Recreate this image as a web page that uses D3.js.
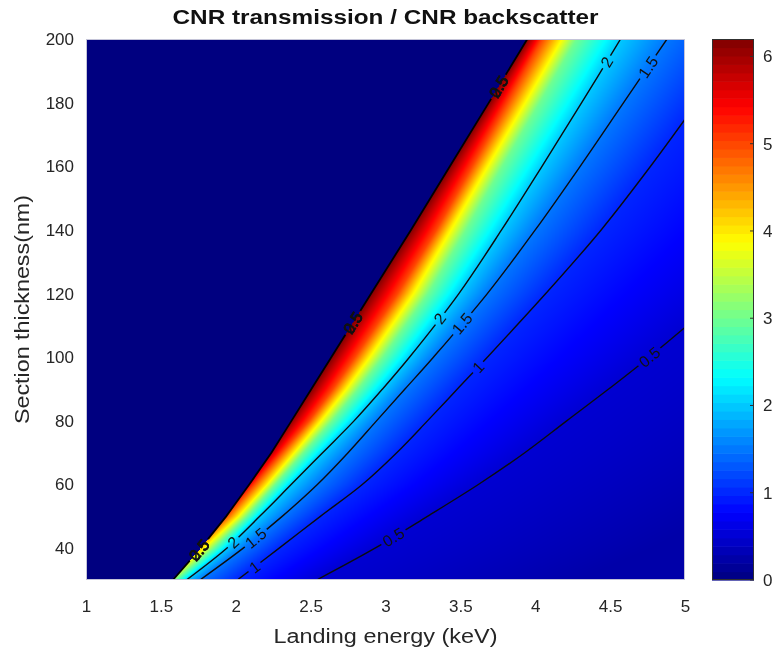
<!DOCTYPE html>
<html><head><meta charset="utf-8">
<script src="https://cdn.jsdelivr.net/npm/d3@7"></script>
<style>
body{margin:0;background:#fff;}
#wrap{position:relative;width:775px;height:651px;overflow:hidden;}
canvas,svg{position:absolute;left:0;top:0;}
text{font-family:"Liberation Sans",Arial,Helvetica,sans-serif;}
</style></head><body><div id="wrap"><canvas id="cv" width="775" height="651"></canvas><svg id="sv" width="775" height="651"></svg></div>
<script>
// ---- data ----
const thickness  = [30,   40,   50,   60,   70,   80,   90,   100,  120,  140,  160,  180,  200];
const edgeEnergy = [1.58, 1.766,1.936,2.09, 2.238,2.372,2.505,2.638,2.904,3.17, 3.43, 3.69, 3.947];
const edgePeak   = [3.3,  4.2,  5.0,  5.5,  5.9,  6.1,  6.2,  6.2,  6.2,  6.2,  6.2,  6.2,  6.2];
const level5E    = [1.58, 1.766,1.936,2.124,2.306,2.489,2.648,2.795,3.08, 3.339,3.578,3.814,4.047];
const level4E    = [1.58, 1.780,2.010,2.202,2.382,2.560,2.728,2.883,3.174,3.424,3.67, 3.919,4.165];
const level3E    = [1.598,1.853,2.075,2.264,2.453,2.644,2.819,2.983,3.285,3.539,3.781,4.031,4.277];
const contour2E  = [1.67, 1.94, 2.16, 2.37, 2.58, 2.79, 2.98, 3.16, 3.49, 3.775,4.045,4.31, 4.57];
const contour15E = [1.761,2.05, 2.31, 2.545,2.75, 2.94, 3.13, 3.32, 3.68, 4.0,  4.3,  4.59, 4.88];
const contour1E  = [2.01, 2.29, 2.565,2.845,3.075,3.28, 3.48, 3.68, 4.07, 4.44, 4.77, 5.08, 5.38];
const contour05E = [2.54, 2.93, 3.28, 3.62, 3.93, 4.21, 4.49, 4.76, 5.26, 5.72, 6.15, 6.56, 6.96];
const level025E  = [4.3,  4.8,  5.2,  5.6,  6.0,  6.4,  6.8,  7.2,  8.0,  8.8,  9.5,  10.2, 10.9];
const levelValues = [5, 4, 3, 2, 1.5, 1, 0.5, 0.25];
const contourLevels = [2, 1.5, 1, 0.5];
const contourLabelT = [[41.9,112.2,192.8],[43.2,110.6,191.2],[34.1,96.9],[43.5,100.1]];
const edgeLabelT = [39.4,110.8,185];
const xTicks = [1,1.5,2,2.5,3,3.5,4,4.5,5];
const yTicks = [40,60,80,100,120,140,160,180,200];
const cTicks = [0,1,2,3,4,5,6];
const colorMax = 6.2;
const titleText = "CNR transmission / CNR backscatter";
const xLabelText = "Landing energy (keV)";
const yLabelText = "Section thickness(nm)";

// ---- layout ----
const PL=86, PR=685, PT=39, PB=580;
const CBL=712, CBR=754;
const FONT='"Liberation Sans",Arial,Helvetica,sans-serif';
const xs = d3.scaleLinear().domain([1,5]).range([PL,PR]);
const ys = d3.scaleLinear().domain([30,200]).range([PB,PT]);
const cs = d3.scaleLinear().domain([0,colorMax]).range([PB,PT]);
const levelEnergy = [level5E,level4E,level3E,contour2E,contour15E,contour1E,contour05E,level025E];
const contourArrays = [contour2E,contour15E,contour1E,contour05E];

function jet(x){
  x=Math.max(0,Math.min(1,x));
  const c=v=>Math.max(0,Math.min(1,v));
  return [c(1.5-Math.abs(4*x-3)), c(1.5-Math.abs(4*x-2)), c(1.5-Math.abs(4*x-1))];
}
function jetCss(x){const j=jet(x);return d3.rgb(j[0]*255,j[1]*255,j[2]*255).toString();}

function rowAt(t){
  let i = d3.bisectRight(thickness, t) - 1;
  i = Math.max(0, Math.min(thickness.length-2, i));
  const f = (t - thickness[i])/(thickness[i+1]-thickness[i]);
  const L = a => a[i] + (a[i+1]-a[i])*f;
  return {edge:L(edgeEnergy), peak:L(edgePeak), en:levelEnergy.map(L)};
}
function valueAt(E, r){
  if (E < r.edge) return 0;
  let pe=r.edge, pv=r.peak;
  for (let k=0;k<levelValues.length;k++){
    const v=levelValues[k];
    if (v>=pv) continue;
    const e=Math.max(r.en[k],pe);
    if (E<=e) return e===pe ? v : pv+(v-pv)*(E-pe)/(e-pe);
    pe=e; pv=v;
  }
  return pv;
}
function energyAt(arr,t){
  let i = d3.bisectRight(thickness, t) - 1;
  i = Math.max(0, Math.min(thickness.length-2, i));
  const f = (t - thickness[i])/(thickness[i+1]-thickness[i]);
  return arr[i]+(arr[i+1]-arr[i])*f;
}

// ---- field on canvas ----
const cv=document.getElementById('cv'); const ctx=cv.getContext('2d');
const img=ctx.createImageData(PR-PL, PB-PT);
for(let py=PT;py<PB;py++){
  const r=rowAt(ys.invert(py+0.5));
  for(let px=PL;px<PR;px++){
    const v=valueAt(xs.invert(px+0.5), r);
    const j=jet(v/colorMax);
    const o=((py-PT)*(PR-PL)+(px-PL))*4;
    img.data[o]=j[0]*255; img.data[o+1]=j[1]*255; img.data[o+2]=j[2]*255; img.data[o+3]=255;
  }
}
ctx.putImageData(img, PL, PT);

// ---- svg ----
const svg=d3.select('#sv');
const defs=svg.append('defs');
defs.append('clipPath').attr('id','plotclip').append('rect')
  .attr('x',PL).attr('y',PT).attr('width',PR-PL).attr('height',PB-PT);
const mask=defs.append('mask').attr('id','lblmask').attr('maskUnits','userSpaceOnUse')
  .attr('x',0).attr('y',0).attr('width',775).attr('height',651);
mask.append('rect').attr('x',0).attr('y',0).attr('width',775).attr('height',651).attr('fill','#fff');

const line=d3.line().x(d=>xs(d[0])).y(d=>ys(d[1])).curve(d3.curveCatmullRom.alpha(0.5));
const gLines=svg.append('g').attr('clip-path','url(#plotclip)');
const gLinesInner=gLines.append('g').attr('mask','url(#lblmask)');
contourArrays.forEach(arr=>{
  gLinesInner.append('path').attr('d',line(thickness.map((t,i)=>[arr[i],t])))
    .attr('fill','none').attr('stroke','#0d0d0d').attr('stroke-width',1.4);
});
gLinesInner.append('path').attr('d',d3.line().x(d=>xs(d[0])).y(d=>ys(d[1]))(thickness.map((t,i)=>[edgeEnergy[i],t])))
  .attr('fill','none').attr('stroke','#000').attr('stroke-width',1.8);

const gLbl=svg.append('g');
function placeLabel(arr,t,texts,bold){
  const E=energyAt(arr,t);
  const x=xs(E), y=ys(t);
  const x1=xs(energyAt(arr,t-3)), y1=ys(t-3), x2=xs(energyAt(arr,t+3)), y2=ys(t+3);
  const ang=Math.atan2(y2-y1,x2-x1)*180/Math.PI;
  const g=gLbl.append('g').attr('transform',`translate(${x},${y}) rotate(${ang})`);
  let w=0;
  texts.forEach(s=>{
    const tx=g.append('text').attr('text-anchor','middle').attr('dy','0.36em')
      .attr('font-size',16).attr('fill','#111').text(s);
    if(bold) tx.attr('stroke','#111').attr('stroke-width',0.6);
    w=Math.max(w,tx.node().getComputedTextLength());
  });
  mask.append('rect').attr('x',-w/2-3).attr('y',-7).attr('width',w+6).attr('height',14)
    .attr('fill','#000').attr('transform',`translate(${x},${y}) rotate(${ang})`);
}
contourArrays.forEach((arr,k)=>{
  contourLabelT[k].forEach(t=>placeLabel(arr,t,[String(contourLevels[k])],false));
});
edgeLabelT.forEach(t=>placeLabel(edgeEnergy,t,["0.5","2.5"],true));

// plot frame
svg.append('rect').attr('x',PL+0.5).attr('y',PT+0.5).attr('width',PR-PL-1).attr('height',PB-PT-1)
  .attr('fill','none').attr('stroke','#c4c4d8').attr('stroke-width',1);

// axes
const ax=svg.append('g').attr('transform',`translate(0,${PB})`)
  .call(d3.axisBottom(xs).tickValues(xTicks).tickFormat(d3.format('')).tickSize(0).tickPadding(20));
const ay=svg.append('g').attr('transform',`translate(${PL},0)`)
  .call(d3.axisLeft(ys).tickValues(yTicks).tickFormat(d3.format('')).tickSize(0).tickPadding(12));
[ax,ay].forEach(a=>{a.select('.domain').remove();
  a.selectAll('text').attr('font-size',17).attr('fill','#262626').style('font-family',FONT);});

// colorbar
const nB=64;
const cb=svg.append('g');
cb.selectAll('rect.band').data(d3.range(nB)).enter().append('rect').attr('class','band')
  .attr('x',CBL).attr('width',CBR-CBL)
  .attr('y',i=>cs((i+1)/nB*colorMax)).attr('height',i=>cs(i/nB*colorMax)-cs((i+1)/nB*colorMax)+0.6)
  .attr('fill',i=>jetCss((i+0.5)/nB));
cb.append('rect').attr('x',CBL+0.5).attr('y',PT+0.5).attr('width',CBR-CBL-1).attr('height',PB-PT-1)
  .attr('fill','none').attr('stroke','#303030').attr('stroke-width',1);
cb.selectAll('line.ct').data(cTicks).enter().append('line').attr('class','ct')
  .attr('x1',CBR-4).attr('x2',CBR).attr('y1',d=>cs(d)).attr('y2',d=>cs(d)).attr('stroke','#303030');
const ac=svg.append('g').attr('transform',`translate(${CBR},0)`)
  .call(d3.axisRight(cs).tickValues(cTicks).tickFormat(d3.format('')).tickSize(0).tickPadding(9));
ac.select('.domain').remove();
ac.selectAll('text').attr('font-size',17).attr('fill','#262626').style('font-family',FONT);

// titles
svg.append('text').attr('x',(PL+PR)/2).attr('y',24).attr('text-anchor','middle')
  .attr('font-size',20).attr('font-weight','bold').attr('fill','#111')
  .attr('textLength',426).attr('lengthAdjust','spacingAndGlyphs').text(titleText);
svg.append('text').attr('x',(PL+PR)/2).attr('y',643).attr('text-anchor','middle')
  .attr('font-size',20).attr('fill','#262626')
  .attr('textLength',224).attr('lengthAdjust','spacingAndGlyphs').text(xLabelText);
svg.append('text').attr('transform',`translate(29,${(PT+PB)/2}) rotate(-90)`).attr('text-anchor','middle')
  .attr('font-size',20).attr('fill','#262626')
  .attr('textLength',229).attr('lengthAdjust','spacingAndGlyphs').text(yLabelText);
</script></body></html>
